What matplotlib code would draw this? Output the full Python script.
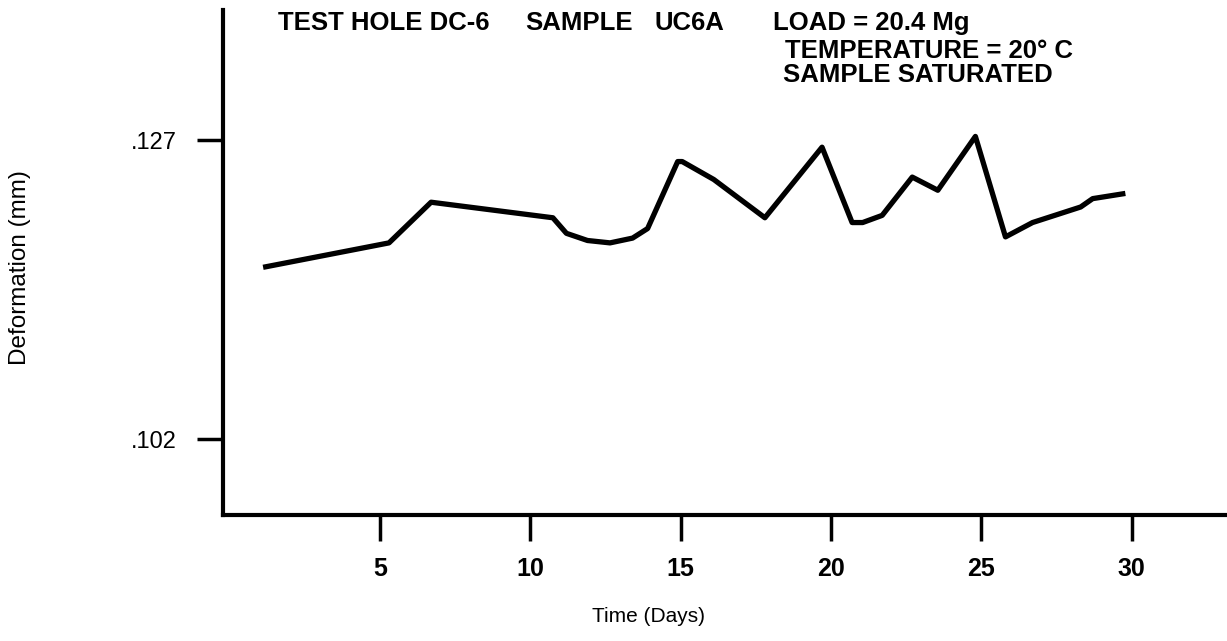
import matplotlib
matplotlib.use("Agg")
import matplotlib.pyplot as plt

plt.rcParams['font.family'] = ['Liberation Sans', 'DejaVu Sans']

# creep record, sample UC6A
days = [1.2, 5.3, 6.7, 10.75, 11.2, 11.9, 12.65, 13.4, 13.9, 14.9, 15.05,
        16.1, 17.8, 19.7, 20.7, 21.05, 21.7, 22.7, 23.55, 24.8, 25.8,
        26.7, 28.3, 28.7, 29.7]
deform = [0.1164, 0.1184, 0.1218, 0.1205, 0.1192, 0.1186, 0.1184, 0.1188,
          0.1196, 0.1252, 0.1252, 0.1237, 0.1205, 0.1264, 0.1201, 0.1201,
          0.1207, 0.1239, 0.1228, 0.1273, 0.1189, 0.1201, 0.1214, 0.1221,
          0.1225]

xticks = [5, 10, 15, 20, 25, 30]
yticks = [0.102, 0.127]
ylabels = ['.102', '.127']

W, H = 1227, 641
fig = plt.figure(figsize=(W / 100, H / 100), dpi=100)
ax = fig.add_axes([223 / W, 1 - 515 / H, (1225 - 223) / W, (515 - 10) / H])

ax.plot(days, deform, color='black', lw=3.8, solid_joinstyle='round')

ax.set_xlim(-0.22, 33.1)
ax.set_ylim(0.09565, 0.13787)
ax.set_xticks(xticks)
ax.set_xticklabels([str(t) for t in xticks], fontweight='bold')
ax.set_yticks(yticks)
ax.set_yticklabels(ylabels)

for s in ['top', 'right']:
    ax.spines[s].set_visible(False)
for s in ['left', 'bottom']:
    ax.spines[s].set_linewidth(3)

ax.tick_params(direction='out', length=19, width=2.5, labelsize=18, pad=11)
ax.tick_params(axis='y', labelsize=17, pad=14)

fig.text(20 / W, 1 - 268 / H, 'Deformation (mm)', rotation=90,
         ha='center', va='center', fontsize=17.5)
fig.text(648 / W, 1 - 617 / H, 'Time (Days)', ha='center', va='center', fontsize=15)

# header block above the plot
hdr = dict(ha='left', va='center', fontsize=18.5, fontweight='bold')
fig.text(278 / W, 1 - 23 / H, 'TEST HOLE DC-6', **hdr)
fig.text(525 / W, 1 - 23 / H, 'SAMPLE', **hdr)
fig.text(655 / W, 1 - 23 / H, 'UC6A', **hdr)
fig.text(773 / W, 1 - 23 / H, 'LOAD = 20.4 Mg', **hdr)
fig.text(785 / W, 1 - 51 / H, 'TEMPERATURE = 20° C', **hdr)
fig.text(783 / W, 1 - 75 / H, 'SAMPLE SATURATED', **hdr)

fig.savefig('out.png', dpi=100)
